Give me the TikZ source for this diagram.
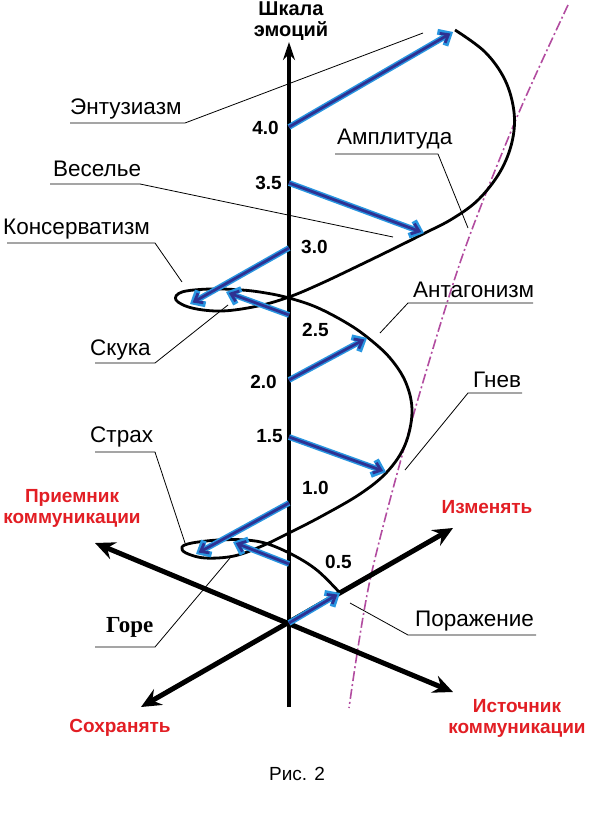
\documentclass[tikz,border=0pt]{standalone}
\usepackage{fontspec}
\setmainfont{Liberation Sans}
\newfontfamily\serifb{Liberation Serif}
\usetikzlibrary{arrows.meta}
\definecolor{emored}{RGB}{226,30,36}
\definecolor{ampl}{RGB}{178,76,160}
\definecolor{bluelight}{RGB}{40,150,225}
\definecolor{bluedark}{RGB}{46,49,146}
\tikzset{
  lbl/.style={font=\fontsize{22.5}{26}\selectfont, anchor=base west, inner sep=0pt},
  numr/.style={font=\bfseries\fontsize{19}{22}\selectfont, inner sep=0pt, anchor=west},
  numl/.style={font=\bfseries\fontsize{19}{22}\selectfont, inner sep=0pt, anchor=east},
  redlbl/.style={font=\bfseries\fontsize{19}{21}\selectfont, text=emored, align=center, inner sep=0pt},
  leader/.style={line width=0.8pt, line join=round},
  spiral/.style={line width=2.8pt, line join=round},
  vaxis/.style={line width=3.8pt, -{Stealth[length=18pt,width=12pt]}},
  daxis/.style={line width=5pt, {Stealth[length=20pt,width=18pt,inset=7pt]}-{Stealth[length=20pt,width=18pt,inset=7pt]}},
  blueout/.style={line width=5.8pt, bluelight, -{Straight Barb[length=9pt,width=16pt]}},
  bluein/.style={line width=2.8pt, bluedark, shorten >=3pt, -{Straight Barb[length=7pt,width=11pt]}},
  amplline/.style={ampl, line width=1.6pt, dash pattern=on 10pt off 3pt on 2pt off 3pt},
}
\begin{document}
\begin{tikzpicture}[x=1pt,y=-1pt]
\useasboundingbox (0,0) rectangle (589,813);
% amplitude envelope
\draw[amplline] plot[smooth] coordinates {(568,5) (517,117) (462,257) (412,420) (370,580) (349,708)};
% axes
\coordinate (vbot) at (289,707);
\coordinate (vtop) at (289,42);
\coordinate (sohr) at (141,707);
\coordinate (izm) at (453,528);
\coordinate (prie) at (95,543);
\coordinate (ist) at (453,692);
\draw[vaxis] (vbot) -- (vtop);
\draw[daxis] (sohr) -- (izm);
\draw[daxis] (prie) -- (ist);
% spiral
\draw[spiral] plot[smooth, tension=0.6] coordinates {
 (455,30) (485,52) (505,80) (514,112) (512,142) (500,172) (478,200) (452,219) (425,233)
 (395,248) (358,266) (320,284) (289,297) (258,306) (222,311) (192,308) (176,300)
 (182,292) (210,289) (242,290) (266,293) (289,298) (316,307) (345,322) (367,337)
 (390,358) (406,383) (412,412) (405,445) (387,472) (360,494) (322,516) (289,533)
 (262,546) (234,556) (205,558) (186,553) (182,547) (192,543) (218,540) (246,540)
 (268,544) (295,556) (318,571) (340,593)};
% blue arrows
\coordinate (bs1) at (289,127); \coordinate (be1) at (453,32);
\coordinate (bs2) at (289,183); \coordinate (be2) at (424,233);
\coordinate (bs3) at (289,248); \coordinate (be3) at (190,304);
\coordinate (bs4) at (289,315); \coordinate (be4) at (226,292);
\coordinate (bs5) at (289,380); \coordinate (be5) at (367,338);
\coordinate (bs6) at (289,437); \coordinate (be6) at (386,472);
\coordinate (bs7) at (289,503); \coordinate (be7) at (196,554);
\coordinate (bs8) at (289,564); \coordinate (be8) at (233,542);
\coordinate (bs9) at (289,623); \coordinate (be9) at (340,593);
\foreach \i in {1,...,9}{
  \draw[blueout] (bs\i) -- (be\i);
  \draw[bluein] (bs\i) -- (be\i);
}
% scale numbers
\node[numl] (n40) at (279,128) {4.0};
\node[numl] (n35) at (282,183) {3.5};
\node[numr] (n30) at (301,247) {3.0};
\node[numr] (n25) at (302,330) {2.5};
\node[numl] (n20) at (277,382) {2.0};
\node[numl] (n15) at (283,436) {1.5};
\node[numr] (n10) at (302,488) {1.0};
\node[numr] (n05) at (325,562) {0.5};
% title of axis
\node[font=\bfseries\fontsize{20}{21}\selectfont, align=center, inner sep=0pt] (title) at (291,21) {Шкала\\эмоций};
% red labels
\node[redlbl] (lprie) at (72,508) {Приемник\\коммуникации};
\node[redlbl] (lizm) at (487,507) {Изменять};
\node[redlbl] (lsohr) at (120,728) {Сохранять};
\node[redlbl] (list) at (517,718) {Источник\\коммуникации};
\node[font=\fontsize{19}{22}\selectfont, inner sep=0pt] (fig) at (297,774) {Рис. 2};
% emotion labels
\node[lbl] (len) at (70,115) {Энтузиазм};
\node[lbl] (lves) at (53,177) {Веселье};
\node[lbl] (lkons) at (3,234) {Консерватизм};
\node[lbl] (lsk) at (90,355) {Скука};
\node[lbl] (lamp) at (337,145) {Амплитуда};
\node[lbl] (lant) at (413,297) {Антагонизм};
\node[lbl] (lgn) at (473,387) {Гнев};
\node[lbl] (lstr) at (90,442) {Страх};
\node[lbl] (lpor) at (415,626) {Поражение};
\node[anchor=base west, inner sep=0pt, font=\serifb\bfseries\fontsize{23}{26}\selectfont] (lgore) at (106,632) {Горе};
% leaders
\coordinate (en1) at (70,123);   \coordinate (en2) at (185,123);  \coordinate (en3) at (423,33);
\coordinate (ve1) at (50,184);   \coordinate (ve2) at (140,184);  \coordinate (ve3) at (393,237);
\coordinate (ko1) at (7,243);    \coordinate (ko2) at (155,243);  \coordinate (ko3) at (182,282);
\coordinate (sk1) at (95,363);   \coordinate (sk2) at (155,363);  \coordinate (sk3) at (228,305);
\coordinate (am1) at (335,154);  \coordinate (am2) at (438,154);  \coordinate (am3) at (468,228);
\coordinate (an1) at (533,303);  \coordinate (an2) at (408,303);  \coordinate (an3) at (380,333);
\coordinate (gn1) at (522,393);  \coordinate (gn2) at (468,393);  \coordinate (gn3) at (405,470);
\coordinate (st1) at (95,452);   \coordinate (st2) at (155,452);  \coordinate (st3) at (185,543);
\coordinate (go1) at (95,647);   \coordinate (go2) at (155,647);  \coordinate (go3) at (230,558);
\coordinate (po1) at (536,635);  \coordinate (po2) at (408,635);  \coordinate (po3) at (350,603);
\foreach \p in {en,ve,ko,sk,am,an,gn,st,go,po}{
  \draw[leader] (\p1) -- (\p2) -- (\p3);
}
\end{tikzpicture}
\end{document}
